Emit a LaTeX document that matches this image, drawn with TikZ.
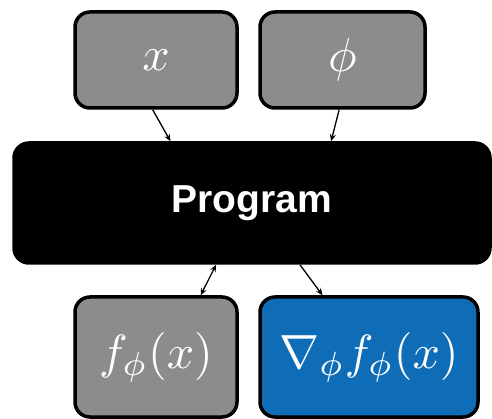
\documentclass[tikz,border=0pt]{standalone}
\usepackage{graphicx}
\usepackage{fontspec}
\newfontfamily\progfont{Liberation Sans}
\usetikzlibrary{calc,arrows.meta}
\definecolor{boxgray}{HTML}{8C8C8C}
\definecolor{boxblue}{HTML}{0F6DB8}
\newcommand{\boxmath}[1]{\scalebox{4.8}{$#1$}}
\begin{document}
\begin{tikzpicture}[x=1pt,y=-1pt,
  box/.style={draw=black,line width=3.5pt,rounded corners=15pt,inner sep=0pt,text=white},
  conn/.style={line width=1.3pt,-{Stealth[length=7pt,width=6pt]}},
  dconn/.style={line width=1.3pt,{Stealth[length=7pt,width=6pt]}-{Stealth[length=7pt,width=6pt]}}]
\useasboundingbox (0,0) rectangle (492,419);
\node[box,fill=boxgray,minimum width=162pt,minimum height=96pt] (xb) at (156,60) {\boxmath{x}};
\node[box,fill=boxgray,minimum width=165pt,minimum height=96pt] (pb) at (342.5,60) {\boxmath{\phi}};
\node[box,fill=black,minimum width=476pt,minimum height=120pt,font=\progfont\bfseries\fontsize{39}{40}\selectfont] (prog) at (252,203) {Program};
\node[box,fill=boxgray,minimum width=162pt,minimum height=120pt] (fb) at (156,357) {\boxmath{f_\phi(x)}};
\node[box,fill=boxblue,minimum width=218pt,minimum height=120pt] (gb) at (369,357) {\boxmath{\nabla_\phi f_\phi(x)}};
\draw[conn] ($(xb.south west)!0.48!(xb.south east)$) -- ($(prog.north west)!0.33!(prog.north east)$);
\draw[conn] ($(pb.south west)!0.48!(pb.south east)$) -- ($(prog.north west)!0.665!(prog.north east)$);
\draw[dconn] ($(prog.south west)!0.425!(prog.south east)$) -- ($(fb.north west)!0.77!(fb.north east)$);
\draw[conn] ($(prog.south west)!0.6!(prog.south east)$) -- ($(gb.north west)!0.29!(gb.north east)$);
\end{tikzpicture}
\end{document}
